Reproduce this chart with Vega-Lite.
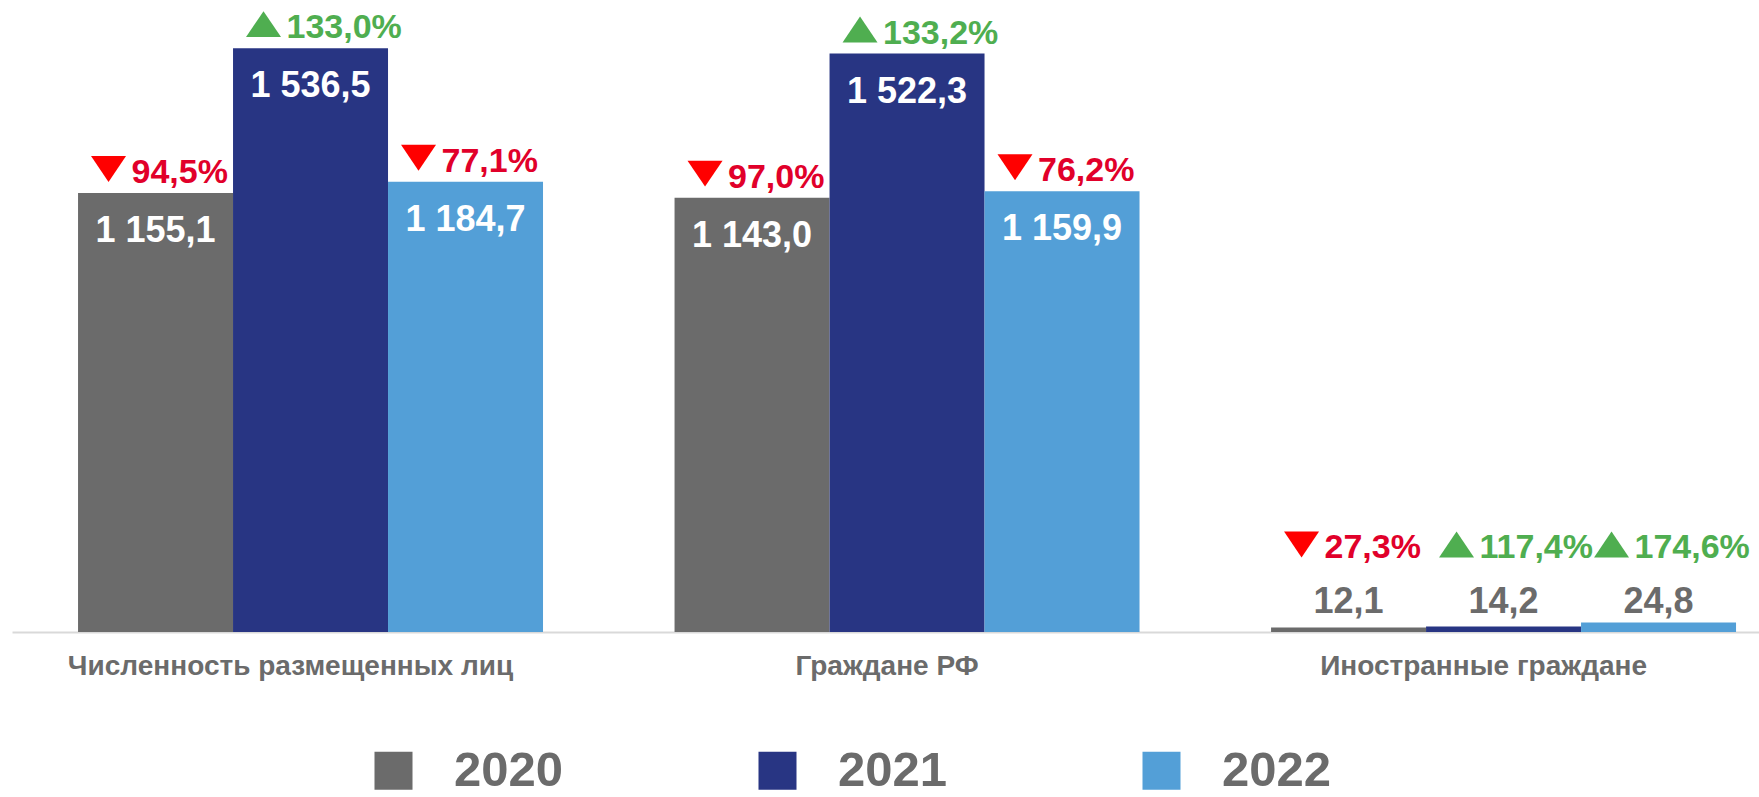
{
  "$schema": "https://vega.github.io/schema/vega-lite/v6.json",
  "width": 1747,
  "height": 608,
  "autosize": {"type": "none"},
  "padding": {"left": 12, "top": 24, "right": 0, "bottom": 165},
  "background": "#ffffff",
  "config": {
    "view": {"stroke": null},
    "font": "Liberation Sans",
    "locale": {"number": {"decimal": ",", "thousands": " ", "grouping": [3], "currency": ["", ""]}}
  },
  "data": {
    "values": [
      {"category": "Численность размещенных лиц", "year": "2020", "value": 1155.1, "pct": 0.945},
      {"category": "Численность размещенных лиц", "year": "2021", "value": 1536.5, "pct": 1.330},
      {"category": "Численность размещенных лиц", "year": "2022", "value": 1184.7, "pct": 0.771},
      {"category": "Граждане РФ", "year": "2020", "value": 1143.0, "pct": 0.970},
      {"category": "Граждане РФ", "year": "2021", "value": 1522.3, "pct": 1.332},
      {"category": "Граждане РФ", "year": "2022", "value": 1159.9, "pct": 0.762},
      {"category": "Иностранные граждане", "year": "2020", "value": 12.1, "pct": 0.273},
      {"category": "Иностранные граждане", "year": "2021", "value": 14.2, "pct": 1.174},
      {"category": "Иностранные граждане", "year": "2022", "value": 24.8, "pct": 1.746}
    ]
  },
  "encoding": {
    "x": {
      "field": "category", "type": "nominal", "sort": null,
      "scale": {"paddingInner": 0.2205, "paddingOuter": 0.0746, "align": 0.742},
      "axis": {
        "title": null, "labelAngle": 0, "ticks": false, "grid": false,
        "domainColor": "#d9d9d9", "domainWidth": 2,
        "labelFont": "Liberation Sans", "labelFontSize": 28, "labelFontWeight": "bold",
        "labelColor": "#6b6b6b", "labelPadding": 42, "labelBaseline": "alphabetic",
        "labelLimit": 1000, "labelOffset": -20
      }
    },
    "xOffset": {"field": "year", "type": "nominal", "scale": {"paddingInner": 0, "paddingOuter": 0}},
    "y": {"field": "value", "type": "quantitative", "scale": {"domain": [0, 1600], "nice": false, "zero": true}, "axis": null}
  },
  "layer": [
    {
      "mark": {"type": "bar"},
      "encoding": {
        "color": {
          "field": "year", "type": "nominal",
          "scale": {"domain": ["2020", "2021", "2022"], "range": ["#6b6b6b", "#283583", "#539fd7"]},
          "legend": {
            "title": null, "orient": "none", "legendX": 357, "legendY": 722,
            "direction": "horizontal", "columns": 3,
            "symbolType": "square", "symbolSize": 1444, "symbolStrokeWidth": 0,
            "labelFont": "Liberation Sans", "labelFontSize": 49, "labelFontWeight": "bold",
            "labelColor": "#6b6b6b", "labelOffset": 36, "columnPadding": 189, "padding": 0
          }
        }
      }
    },
    {
      "transform": [{"filter": "datum.category !== 'Иностранные граждане'"}],
      "mark": {"type": "text", "baseline": "alphabetic", "dy": 49, "fontSize": 36, "fontWeight": "bold", "color": "#ffffff"},
      "encoding": {"text": {"field": "value", "type": "quantitative", "format": ",.1f"}}
    },
    {
      "transform": [{"filter": "datum.category === 'Иностранные граждане'"}],
      "mark": {"type": "text", "baseline": "alphabetic", "dy": -19, "fontSize": 36, "fontWeight": "bold", "color": "#6b6b6b"},
      "encoding": {
        "y": {"datum": 0, "type": "quantitative"},
        "text": {"field": "value", "type": "quantitative", "format": ",.1f"}
      }
    },
    {
      "transform": [{"filter": "datum.category !== 'Иностранные граждане'"}],
      "mark": {"type": "text", "align": "left", "baseline": "alphabetic", "dx": -24, "dy": -10, "fontSize": 34, "fontWeight": "bold"},
      "encoding": {
        "text": {"field": "pct", "type": "quantitative", "format": ".1%"},
        "color": {"condition": {"test": "datum.pct >= 1", "value": "#4fae50"}, "value": "#e1002a"}
      }
    },
    {
      "transform": [{"filter": "datum.category === 'Иностранные граждане'"}],
      "mark": {"type": "text", "align": "left", "baseline": "alphabetic", "dx": -24, "dy": -74, "fontSize": 34, "fontWeight": "bold"},
      "encoding": {
        "y": {"datum": 0, "type": "quantitative"},
        "text": {"field": "pct", "type": "quantitative", "format": ".1%"},
        "color": {"condition": {"test": "datum.pct >= 1", "value": "#4fae50"}, "value": "#e1002a"}
      }
    },
    {
      "transform": [{"filter": "datum.category !== 'Иностранные граждане'"}],
      "mark": {"type": "point", "filled": true, "opacity": 1, "size": 1225, "strokeWidth": 0, "yOffset": -24},
      "encoding": {
        "shape": {"condition": {"test": "datum.pct >= 1", "value": "M-3.686,0.74L-1.686,0.74L-2.686,-0.74Z"}, "value": "M-3.686,-0.74L-1.686,-0.74L-2.686,0.74Z"},
        "color": {"condition": {"test": "datum.pct >= 1", "value": "#4fae50"}, "value": "#ff0000"}
      }
    },
    {
      "transform": [{"filter": "datum.category === 'Иностранные граждане'"}],
      "mark": {"type": "point", "filled": true, "opacity": 1, "size": 1225, "strokeWidth": 0, "yOffset": -87.5},
      "encoding": {
        "y": {"datum": 0, "type": "quantitative"},
        "shape": {"condition": {"test": "datum.pct >= 1", "value": "M-3.686,0.74L-1.686,0.74L-2.686,-0.74Z"}, "value": "M-3.686,-0.74L-1.686,-0.74L-2.686,0.74Z"},
        "color": {"condition": {"test": "datum.pct >= 1", "value": "#4fae50"}, "value": "#ff0000"}
      }
    }
  ]
}
